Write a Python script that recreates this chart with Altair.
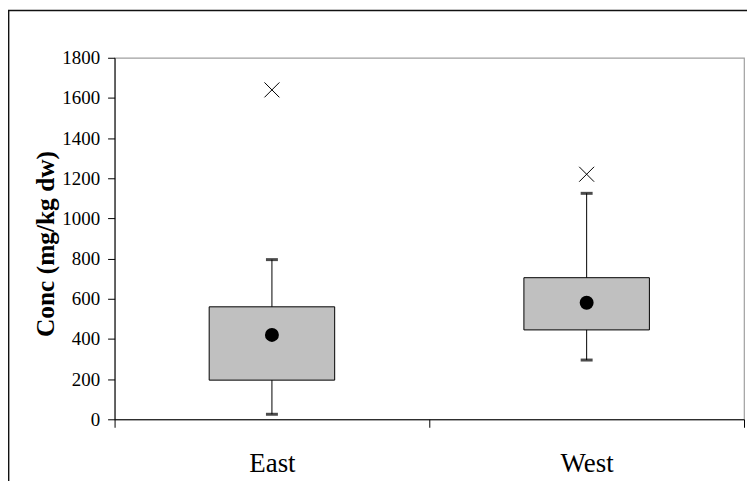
import altair as alt
import pandas as pd

groups = ["East", "West"]
q1 = [195, 445]
q3 = [560, 705]
whisk_lo = [25, 295]
whisk_hi = [795, 1125]
means = [420, 580]
outliers = [1640, 1220]
y_ticks = [0, 200, 400, 600, 800, 1000, 1200, 1400, 1600, 1800]

W, H = 632, 363
FONT = "Liberation Serif"

df = pd.DataFrame({
    "group": groups, "q1": q1, "q3": q3, "lo": whisk_lo, "hi": whisk_hi,
    "mean": means, "out": outliers,
})

x_enc = alt.X("group:N", sort=groups, title=None,
              scale=alt.Scale(paddingInner=0, paddingOuter=0),
              axis=alt.Axis(labelAngle=0, tickBand="extent", tickSize=8,
                            labelFontSize=27, labelFont=FONT, labelColor="black",
                            labelPadding=23, domainColor="black", tickColor="black"))
y_scale = alt.Scale(domain=[0, 1800], nice=False)
y_axis = alt.Axis(values=y_ticks, format="d", grid=False, tickSize=7, labelFontSize=19,
                  labelFont=FONT, labelColor="black", labelPadding=8,
                  domainColor="black", tickColor="black",
                  title="Conc (mg/kg dw)", titleFont=FONT, titleFontSize=25.5,
                  titleFontWeight="bold", titleColor="black", titlePadding=3,
                  titleY=H / 2 + 5)

base = alt.Chart(df)

box = base.mark_bar(size=126, color="#c0c0c0", stroke="black", strokeWidth=1).encode(
    x=x_enc,
    y=alt.Y("q1:Q", scale=y_scale, axis=y_axis),
    y2="q3:Q",
)
whisk_up = base.mark_rule(color="black", strokeWidth=1).encode(
    x=alt.X("group:N", sort=groups), y="q3:Q", y2="hi:Q")
whisk_dn = base.mark_rule(color="black", strokeWidth=1).encode(
    x=alt.X("group:N", sort=groups), y="lo:Q", y2="q1:Q")
cap_hi = base.mark_tick(color="black", size=12, thickness=3, orient="horizontal").encode(
    x=alt.X("group:N", sort=groups), y="hi:Q")
cap_lo = base.mark_tick(color="black", size=12, thickness=3, orient="horizontal").encode(
    x=alt.X("group:N", sort=groups), y="lo:Q")
mean_pt = base.mark_circle(color="black", size=196, opacity=1).encode(
    x=alt.X("group:N", sort=groups), y="mean:Q")
out_pt = base.mark_point(shape="M-1,-1L1,1M-1,1L1,-1", size=225, filled=False,
                         color="black", strokeWidth=1, opacity=1).encode(
    x=alt.X("group:N", sort=groups), y="out:Q")

frame_df = pd.DataFrame({"k": [0]})
frame_top = alt.Chart(frame_df).mark_rule(color="#111", strokeWidth=1.4).encode(
    x=alt.value(-107), x2=alt.value(W + 3), y=alt.value(-47.5))
frame_left = alt.Chart(frame_df).mark_rule(color="#111", strokeWidth=1.4).encode(
    x=alt.value(-106.3), y=alt.value(-47.5), y2=alt.value(H + 62))

chart = alt.layer(box, whisk_up, whisk_dn, cap_hi, cap_lo, mean_pt, out_pt,
                  frame_top, frame_left).properties(
    width=W, height=H,
    padding={"left": 107, "top": 49, "right": 3, "bottom": 62},
    autosize=alt.AutoSizeParams(type="none"),
).configure_view(stroke="#a0a0a0", strokeWidth=1.2)

chart.save("out.html", embed_options={"renderer": "svg", "actions": False})
